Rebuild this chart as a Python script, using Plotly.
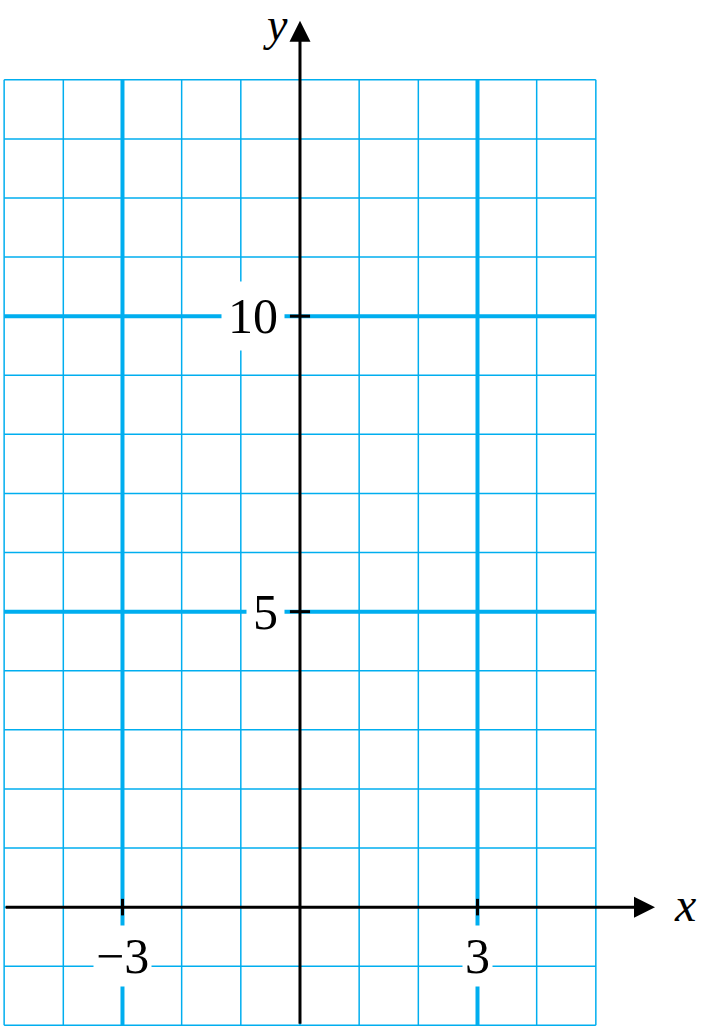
import plotly.graph_objects as go

x_min, x_max = -5, 5
y_min, y_max = -2, 14
x_tick_values = [-3, 3]
x_tick_labels = ["−3", "3"]
y_tick_values = [5, 10]
y_tick_labels = ["5", "10"]
major_x = [-3, 3]
major_y = [5, 10]

BLUE = "#00AEEF"
SERIF = "Liberation Serif, DejaVu Serif, serif"

fig = go.Figure()
shapes = []
# grid lines
for xv in range(x_min, x_max + 1):
    w = 4 if xv in major_x else 1.5
    shapes.append(dict(type="line", xref="x", yref="y", x0=xv, x1=xv, y0=y_min, y1=y_max,
                       line=dict(color=BLUE, width=w), layer="below"))
for yv in range(y_min, y_max + 1):
    w = 4 if yv in major_y else 1.5
    shapes.append(dict(type="line", xref="x", yref="y", x0=x_min, x1=x_max, y0=yv, y1=yv,
                       line=dict(color=BLUE, width=w), layer="below"))

annotations = []
# tick labels with white background
for v, t in zip(y_tick_values, y_tick_labels):
    annotations.append(dict(x=-0.25, y=v, xref="x", yref="y", text=t, showarrow=False,
                            xanchor="right", yanchor="middle", bgcolor="white", borderpad=6,
                            font=dict(family=SERIF, size=50, color="black")))
for v, t in zip(x_tick_values, x_tick_labels):
    annotations.append(dict(x=v, y=-0.3, xref="x", yref="y", text=t, showarrow=False,
                            xanchor="center", yanchor="top", bgcolor="white", borderpad=2,
                            font=dict(family=SERIF, size=50, color="black")))

# axes with arrows
annotations.append(dict(x=6.0, y=0, ax=x_min, ay=0, xref="x", yref="y", axref="x", ayref="y",
                        text="", showarrow=True, arrowhead=2, arrowsize=1.4, arrowwidth=3,
                        arrowcolor="black"))
annotations.append(dict(x=0, y=15.0, ax=0, ay=y_min, xref="x", yref="y", axref="x", ayref="y",
                        text="", showarrow=True, arrowhead=2, arrowsize=1.4, arrowwidth=3,
                        arrowcolor="black"))
annotations.append(dict(x=6.5, y=0.05, xref="x", yref="y", text="<i>x</i>", showarrow=False,
                        font=dict(family=SERIF, size=48, color="black")))
annotations.append(dict(x=-0.42, y=14.93, xref="x", yref="y", text="<i>y</i>", showarrow=False,
                        font=dict(family=SERIF, size=46, color="black")))

# tick marks
for v in y_tick_values:
    shapes.append(dict(type="line", xref="x", yref="y", x0=-0.17, x1=0.17, y0=v, y1=v,
                       line=dict(color="black", width=3)))
for v in x_tick_values:
    shapes.append(dict(type="line", xref="x", yref="y", x0=v, x1=v, y0=-0.14, y1=0.14,
                       line=dict(color="black", width=3)))

fig.update_layout(
    width=704, height=1033,
    margin=dict(l=0, r=0, t=0, b=0),
    paper_bgcolor="white", plot_bgcolor="white",
    showlegend=False,
    shapes=shapes, annotations=annotations,
    xaxis=dict(range=[-5.07, 6.828], visible=False, fixedrange=True),
    yaxis=dict(range=[-2.13, 15.35], visible=False, fixedrange=True),
)
fig.write_html("out.html", config={"displayModeBar": False},
               post_script="document.body.style.margin='0';document.body.style.overflow='hidden';")
